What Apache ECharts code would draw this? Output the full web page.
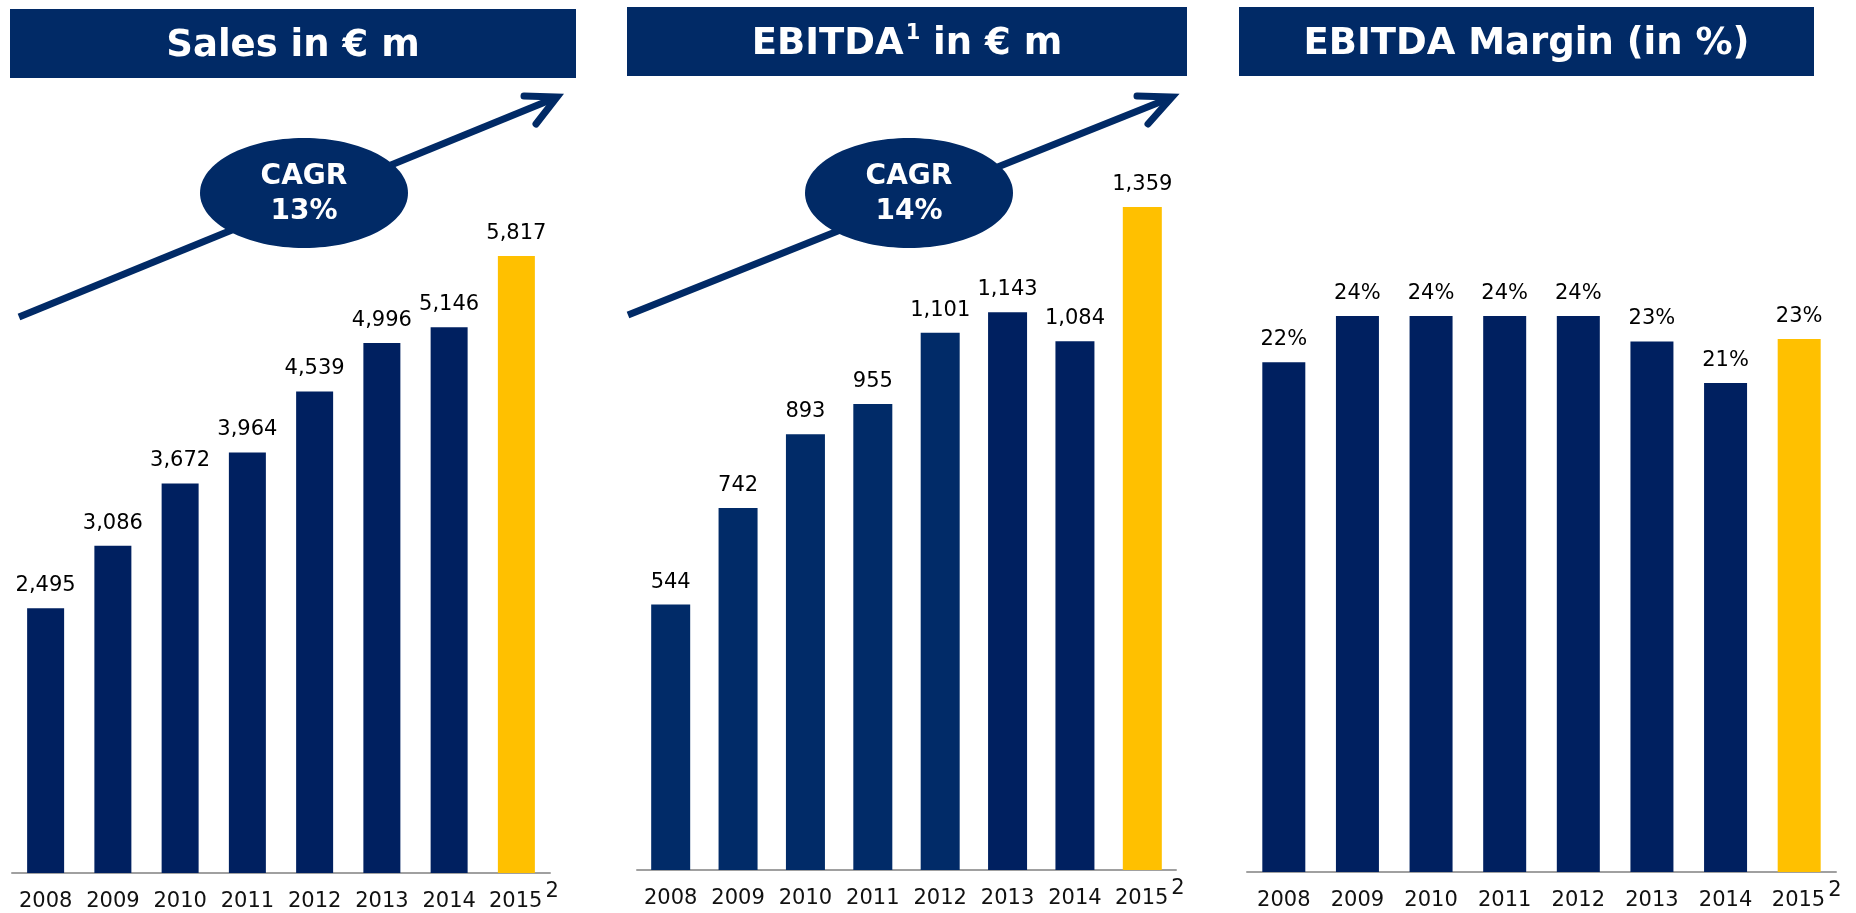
<!DOCTYPE html>
<html>
<head>
<meta charset="utf-8">
<title>Sales, EBITDA and EBITDA margin</title>
<script src="https://cdn.jsdelivr.net/npm/echarts@6/dist/echarts.min.js"></script>
<style>
  html, body { margin: 0; padding: 0; background: #fff; }
  #main { width: 1856px; height: 913px; }
</style>
</head>
<body>
<div id="main"></div>
<script>
// data
const years = ['2008', '2009', '2010', '2011', '2012', '2013', '2014', '2015']
const sales = [2495, 3086, 3672, 3964, 4539, 4996, 5146, 5817]
const ebitda = [544, 742, 893, 955, 1101, 1143, 1084, 1359]
const margin = [22.0, 24.0, 24.0, 24.0, 24.0, 22.9, 21.1, 23.0]
const cagrSales = '13%'
const cagrEbitda = '14%'

const NAVY = '#002060'
const NAVY2 = '#012B68'
const BOX = '#012A66'
const YELLOW = '#FFC000'
const FONT = '"DejaVu Sans", Verdana, sans-serif'

const chart = echarts.init(document.getElementById('main'))

const lastIdx = years.length - 1

const axisX = (gridIndex) => ({
  type: 'category',
  gridIndex: gridIndex,
  data: years,
  axisLine: { lineStyle: { color: '#A0A0A0', width: 2 } },
  axisTick: { length: 7, lineStyle: { color: '#A0A0A0', width: 2 } },
  axisLabel: {
    interval: 0,
    margin: 8,
    formatter: (v, i) => i === lastIdx ? '{sp|}{y|' + v + '}{sup|2}' : '{y|' + v + '}',
    rich: {
      y: { fontFamily: FONT, fontSize: 21, color: '#111', lineHeight: 42 },
      sp: { width: 15 },
      sup: { fontFamily: FONT, fontSize: 21, color: '#111', lineHeight: 21, verticalAlign: 'top', padding: [0, 0, 0, 3] }
    }
  }
})

const axisY = (gridIndex, max) => ({
  type: 'value', gridIndex: gridIndex, min: 0, max: max, show: false,
  splitLine: { show: false }
})

const barLabel = (fmt) => ({
  show: true, position: 'top', distance: 12,
  fontFamily: FONT, fontSize: 21, color: '#000',
  formatter: p => fmt(p.value)
})

const thousands = v => v.toLocaleString('en-US')

// decorations: title boxes, growth arrows, CAGR bubbles
function titleBox(x, y, w, h, rich, text) {
  return [
    { type: 'rect', shape: { x: x, y: y, width: w, height: h }, style: { fill: BOX }, z: 1 },
    { type: 'text', x: x + w / 2, y: y + h / 2 + 3, z: 2,
      style: { text: text, align: 'center', verticalAlign: 'middle', rich: rich,
        fill: '#fff', font: 'bold 37px ' + FONT } }
  ]
}
const titleRich = {
  t: { fontFamily: FONT, fontWeight: 'bold', fontSize: 37, color: '#fff', lineHeight: 42 },
  s: { fontFamily: FONT, fontWeight: 'bold', fontSize: 21, color: '#fff', lineHeight: 21, verticalAlign: 'top', padding: [0, 0, 0, 2] }
}

function arrow(x0, y0, x1, y1, a1, a2, cx, cy, pct) {
  return [
    { type: 'polyline', z: 3, shape: { points: [[x0, y0], [x1, y1]] },
      style: { stroke: BOX, lineWidth: 7, lineCap: 'butt' } },
    { type: 'polyline', z: 3, shape: { points: [a1, [x1 + 2, y1 - 1], a2] },
      style: { stroke: BOX, lineWidth: 7, lineCap: 'round', lineJoin: 'miter', fill: null } },
    { type: 'ellipse', z: 4, shape: { cx: cx, cy: cy, rx: 104, ry: 55 }, style: { fill: BOX } },
    { type: 'text', z: 5, x: cx, y: cy - 16,
      style: { text: 'CAGR', align: 'center', verticalAlign: 'middle', fill: '#fff', font: 'bold 28px ' + FONT } },
    { type: 'text', z: 5, x: cx, y: cy + 19,
      style: { text: pct, align: 'center', verticalAlign: 'middle', fill: '#fff', font: 'bold 28px ' + FONT } }
  ]
}

const graphics = [].concat(
  titleBox(10, 9, 566, 69, titleRich, '{t|Sales in € m}'),
  titleBox(627, 7, 560, 69, titleRich, '{t|EBITDA}{s|1}{t| in € m}'),
  titleBox(1239, 7, 575, 69, titleRich, '{t|EBITDA Margin (in %)}'),
  arrow(19, 317, 555, 98, [524, 96], [536, 124], 304, 193, cagrSales),
  arrow(628, 315, 1170, 98, [1137, 96], [1148, 124], 909, 193, cagrEbitda)
)

chart.setOption({
  animation: false,
  grid: [
    { left: 12, width: 538, top: 130.5, height: 742.5 },
    { left: 637, width: 539, top: 138.2, height: 731.8 },
    { left: 1247, width: 589, top: 176.9, height: 695.1 }
  ],
  xAxis: [axisX(0), axisX(1), axisX(2)],
  yAxis: [axisY(0, 7000), axisY(1, 1500), axisY(2, 30)],
  graphic: { elements: graphics },
  series: [
    {
      name: 'Sales', type: 'bar', xAxisIndex: 0, yAxisIndex: 0, data: sales, barWidth: 37,
      itemStyle: { color: p => p.dataIndex === lastIdx ? YELLOW : NAVY },
      label: barLabel(thousands)
    },
    {
      name: 'EBITDA', type: 'bar', xAxisIndex: 1, yAxisIndex: 1, data: ebitda, barWidth: 39,
      itemStyle: { color: p => p.dataIndex === lastIdx ? YELLOW : (p.dataIndex < 5 ? NAVY2 : NAVY) },
      label: barLabel(thousands)
    },
    {
      name: 'EBITDA Margin', type: 'bar', xAxisIndex: 2, yAxisIndex: 2, data: margin, barWidth: 43,
      itemStyle: { color: p => p.dataIndex === lastIdx ? YELLOW : NAVY },
      label: barLabel(v => Math.round(v) + '%')
    }
  ]
})
</script>
</body>
</html>
